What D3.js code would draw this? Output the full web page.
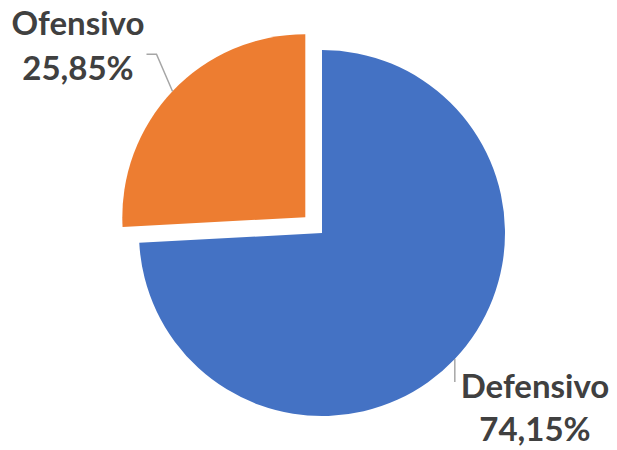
<!DOCTYPE html>
<html>
<head>
<meta charset="utf-8">
<script src="https://cdn.jsdelivr.net/npm/d3@7"></script>
<style>
  body { margin: 0; background: #fff; }
  text { font-family: Lato, "Open Sans", sans-serif; font-weight: bold; fill: #404040; }
</style>
</head>
<body>
<svg width="617" height="450"></svg>
<script>
const categories = ["Defensivo", "Ofensivo"];
const values = [74.15, 25.85];
const valueLabels = ["74,15%", "25,85%"];
const colors = ["#4472C4", "#ED7D31"];

const width = 617, height = 450;
const cx = 322, cy = 233, radius = 183;
const explode = [0, 23];

const svg = d3.select("svg");
const g = svg.append("g").attr("transform", `translate(${cx},${cy})`);

const pie = d3.pie().sort(null).value(d => d.value);
const arcs = pie(categories.map((c, i) => ({name: c, value: values[i], label: valueLabels[i], i})));
const arc = d3.arc().innerRadius(0).outerRadius(radius);

const mid = d => (d.startAngle + d.endAngle) / 2;
const offset = d => {
  const a = mid(d), e = explode[d.data.i];
  return [Math.sin(a) * e, -Math.cos(a) * e];
};

g.selectAll("path.slice")
  .data(arcs)
  .join("path")
  .attr("class", "slice")
  .attr("d", arc)
  .attr("fill", d => colors[d.data.i])
  .attr("transform", d => `translate(${offset(d)})`);

// label positions (text anchor points, relative to svg)
const labelPos = [
  {x: 535, y: 398, gap: 43, bend: [0, 23]},
  {x: 78, y: 35, gap: 45, bend: [-16, -37, -26, -37]}
];

arcs.forEach(d => {
  const a = mid(d), o = offset(d);
  const p0 = [cx + o[0] + Math.sin(a) * radius, cy + o[1] - Math.cos(a) * radius];
  const b = labelPos[d.data.i].bend;
  const pts = [p0];
  for (let k = 0; k < b.length; k += 2) pts.push([p0[0] + b[k], p0[1] + b[k + 1]]);
  svg.append("path")
    .attr("d", d3.line()(pts))
    .attr("fill", "none")
    .attr("stroke", "#A6A6A6")
    .attr("stroke-width", 1.5);

  const lp = labelPos[d.data.i];
  const t = svg.append("text")
    .attr("text-anchor", "middle")
    .attr("font-size", 33);
  t.append("tspan").attr("x", lp.x).attr("y", lp.y).text(d.data.name);
  t.append("tspan").attr("x", lp.x).attr("y", lp.y + lp.gap).text(d.data.label);
});
</script>
</body>
</html>
